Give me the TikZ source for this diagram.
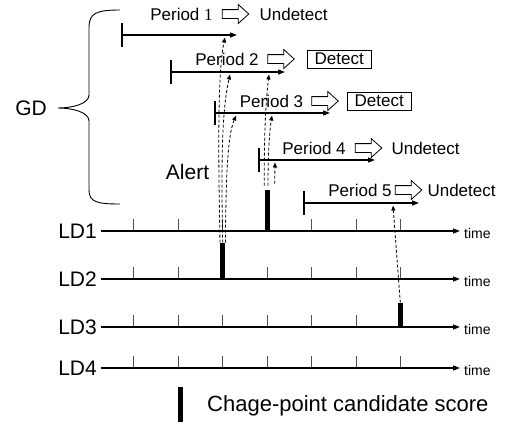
\documentclass[tikz,border=0pt]{standalone}
\usepackage{fontspec}
\setmainfont{Liberation Sans}
\newfontfamily\oneserif{Liberation Serif}
\usetikzlibrary{arrows.meta,positioning,shapes.arrows,calc}
\definecolor{cpInk}{HTML}{000000}
\definecolor{cpTick}{HTML}{505050}
\tikzset{
  axis/.style     ={-{Triangle[length=7pt,width=5pt]},cpInk,line width=1.2pt},
  tickmark/.style ={cpTick,line width=0.9pt},
  ldlbl/.style    ={font=\fontsize{21}{23}\selectfont,inner sep=0pt,inner xsep=4pt,anchor=east},
  timelbl/.style  ={font=\fontsize{14}{16}\selectfont,inner sep=0pt,anchor=west},
  period/.style   ={-{Triangle[length=7pt,width=5pt]},cpInk,line width=1.2pt},
  startbar/.style ={cpInk,line width=1.2pt},
  plbl/.style     ={font=\fontsize{17}{19}\selectfont,inner sep=0pt},
  hollow/.style   ={single arrow,draw=cpInk,fill=white,line width=0.8pt,inner sep=0pt,
                    minimum height=26.5pt,single arrow head extend=5pt,
                    single arrow tip angle=84},
  resbox/.style   ={plbl,draw=cpInk,line width=0.8pt,minimum width=64pt,minimum height=18pt},
  score/.style    ={fill=cpInk,inner sep=0pt,minimum width=5pt,anchor=south},
  alert/.style    ={-{Triangle[length=5pt,width=4pt]},cpInk,line width=0.8pt,
                    dash pattern=on 3pt off 2pt},
  brace/.style    ={cpInk,line width=0.9pt},
}
\newcommand{\hbody}{\rule{0pt}{8pt}}
\begin{document}
\begin{tikzpicture}[x=1pt,y=-1pt]
\useasboundingbox (0,0) rectangle (509,426);

% local detectors
\foreach \i/\y in {1/231,2/279,3/327,4/368}{
  \node[ldlbl] (ld\i) at (101,\y) {LD\i};
  \coordinate (end\i) at (460,\y);
  \node[timelbl] (time\i) at (464,\y+2.5) {time};
  \foreach \t in {0,...,6}
    \draw[tickmark] (133.7+44.5*\t,\y) -- ++(0,-12);
  \draw[axis] (ld\i.east) -- (end\i);
}

% candidate scores
\node[score,minimum height=41pt] (cs1) at (267,231) {};
\node[score,minimum height=36pt] (cs2) at (222.7,279) {};
\node[score,minimum height=24pt] (cs3) at (400.3,327) {};

% global detector periods
\foreach \p/\xs/\xe/\y in {1/122/237/35,2/171/285/72,3/215/330/113,4/259/375/160,5/304/419/203}{
  \coordinate (ps\p) at (\xs,\y);
  \coordinate (pe\p) at (\xe,\y);
  \draw[startbar] (\xs,\y-12) -- (\xs,\y+12);
  \draw[period] (ps\p) -- (pe\p);
}

\node[plbl] (pl1) at (181.5,14) {Period {\oneserif 1}};
\node[hollow,right=9pt of pl1] (ha1) {\hbody};
\node[plbl,right=10pt of ha1] (res1) {Undetect};

\node[plbl] (pl2) at (227,59) {Period 2};
\node[hollow,right=8.5pt of pl2] (ha2) {\hbody};
\node[resbox,right=12pt of ha2] (res2) {Detect};

\node[plbl] (pl3) at (271.5,101) {Period 3};
\node[hollow,right=8pt of pl3] (ha3) {\hbody};
\node[resbox,right=8pt of ha3] (res3) {Detect};

\node[plbl] (pl4) at (314,148) {Period 4};
\node[hollow,right=9pt of pl4] (ha4) {\hbody};
\node[plbl,right=9pt of ha4] (res4) {Undetect};

\node[plbl] (pl5) at (360,190) {Period 5};
\node[hollow,right=3pt of pl5] (ha5) {\hbody};
\node[plbl,right=5pt of ha5] (res5) {Undetect};

% GD brace
\node[ldlbl] (gd) at (51,108) {GD};
\coordinate (gdtip) at (58,108);
\draw[brace] (120,10) .. controls (97,10) and (89,13) .. (89,27) -- (89,95)
  .. controls (89,104) and (72,108) .. (gdtip)
  .. controls (72,108) and (89,112) .. (89,121) -- (89,190)
  .. controls (89,202) and (97,204) .. (120,204);

% alerts
\node[font=\fontsize{21}{23}\selectfont,inner sep=0pt] (alert) at (187.5,172) {Alert};
\coordinate (t21) at (225,37.5);
\coordinate (t22) at (230,74.5);
\coordinate (t23) at (236,115.5);
\coordinate (t12) at (269,74.5);
\coordinate (t13) at (272,115.5);
\coordinate (t14) at (275,162.5);
\coordinate (t35) at (393,205.5);
\draw[alert] (cs2.north west) .. controls (218,140) and (218,70) .. (t21);
\draw[alert] (cs2.north) .. controls (221,160) and (222,110) .. (t22);
\draw[alert] (cs2.north east) .. controls (226,170) and (228,135) .. (t23);
\draw[alert] ($(cs1.north west)+(0,-4)$) .. controls (264,130) and (266,100) .. (t12);
\draw[alert] ($(cs1.north)+(1,-4)$) .. controls (268,160) and (269,135) .. (t13);
\draw[alert] ($(cs1.north east)+(5,-6)$) -- (t14);
\draw[alert] (cs3.north) -- (t35);

% legend
\node[score,minimum height=35pt] (key) at (180,422) {};
\node[font=\fontsize{22}{24}\selectfont,anchor=west,inner sep=0pt] (keylbl) at (207,406)
  {Chage-point candidate score};
\end{tikzpicture}
\end{document}
